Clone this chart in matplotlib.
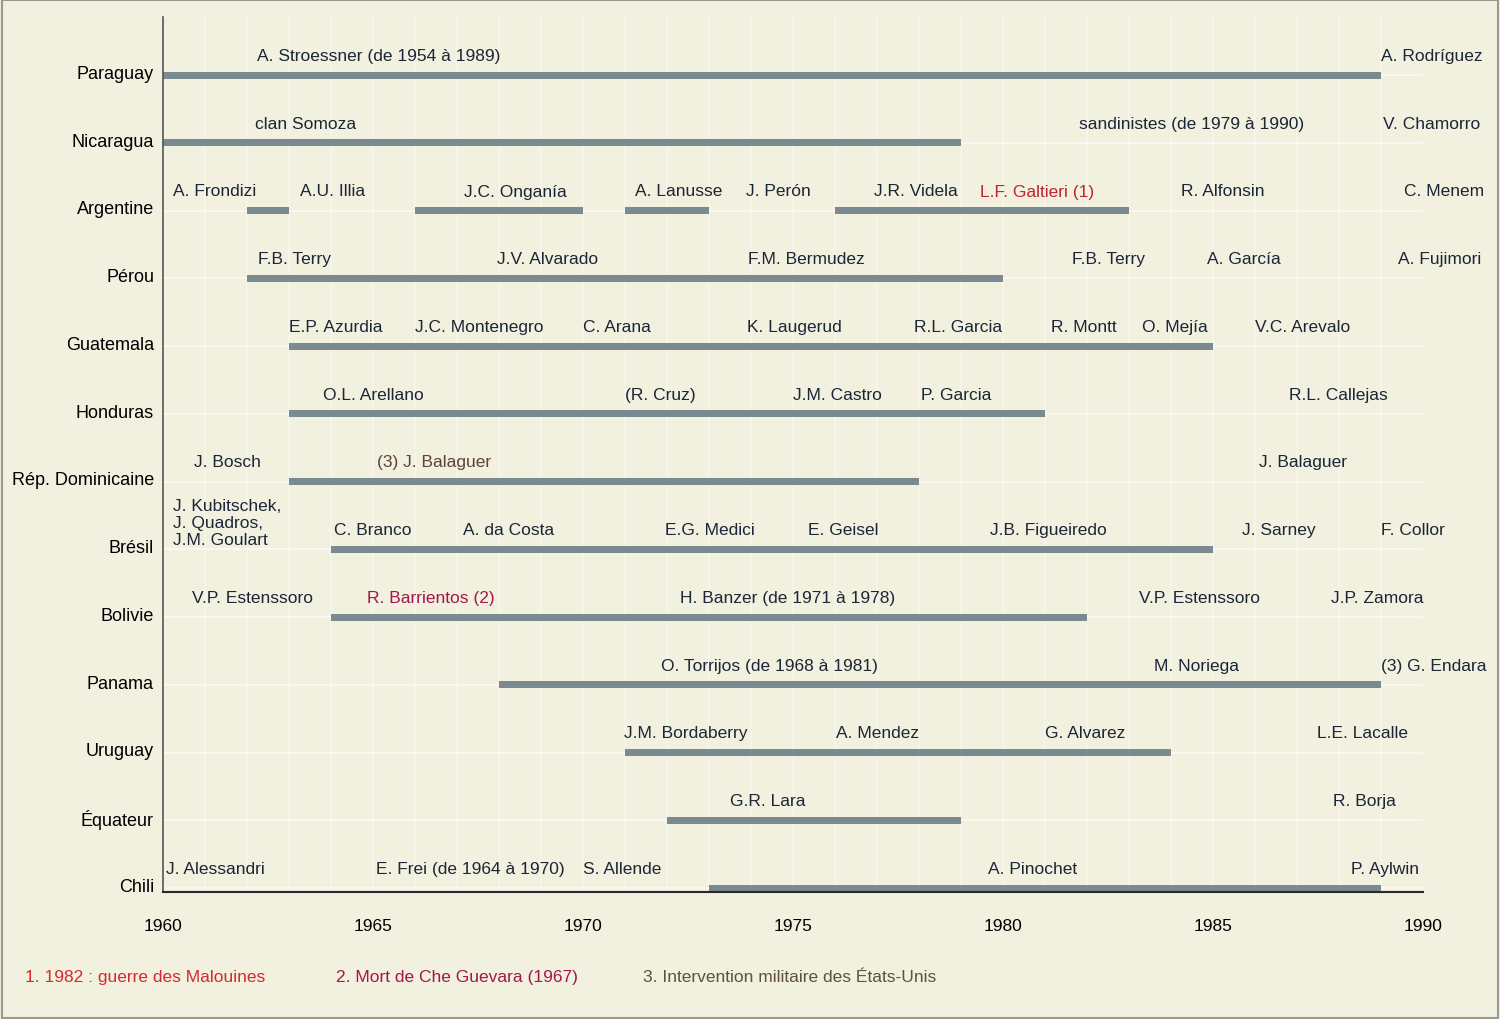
import matplotlib
matplotlib.use('Agg')
import matplotlib.pyplot as plt
import matplotlib.transforms as mtransforms
from matplotlib.patches import Rectangle

plt.rcParams['font.family'] = ['Liberation Sans', 'DejaVu Sans']

countries = ['Paraguay', 'Nicaragua', 'Argentine', 'Pérou', 'Guatemala', 'Honduras',
             'Rép. Dominicaine', 'Brésil', 'Bolivie', 'Panama', 'Uruguay', 'Équateur', 'Chili']

# périodes de régime militaire (début, fin) pour chaque pays
periods = [
    [(1960, 1989)],
    [(1960, 1979)],
    [(1962, 1963), (1966, 1970), (1971, 1973), (1976, 1983)],
    [(1962, 1980)],
    [(1963, 1985)],
    [(1963, 1981)],
    [(1963, 1978)],
    [(1964, 1985)],
    [(1964, 1982)],
    [(1968, 1989)],
    [(1971, 1984)],
    [(1972, 1979)],
    [(1973, 1989)],
]

# dirigeants : (année où débute le texte, nom)
leaders = [
    [(1962.24, 'A. Stroessner (de 1954 à 1989)'), (1989.0, 'A. Rodríguez')],
    [(1962.2, 'clan Somoza'), (1981.8, 'sandinistes (de 1979 à 1990)'), (1989.05, 'V. Chamorro')],
    [(1960.24, 'A. Frondizi'), (1963.26, 'A.U. Illia'), (1967.17, 'J.C. Onganía'),
     (1971.24, 'A. Lanusse'), (1973.88, 'J. Perón'), (1976.93, 'J.R. Videla'),
     (1979.45, 'L.F. Galtieri (1)'), (1984.24, 'R. Alfonsin'), (1989.55, 'C. Menem')],
    [(1962.26, 'F.B. Terry'), (1967.95, 'J.V. Alvarado'), (1973.93, 'F.M. Bermudez'),
     (1981.64, 'F.B. Terry'), (1984.86, 'A. García'), (1989.4, 'A. Fujimori')],
    [(1963.0, 'E.P. Azurdia'), (1966.0, 'J.C. Montenegro'), (1970.0, 'C. Arana'),
     (1973.9, 'K. Laugerud'), (1977.88, 'R.L. Garcia'), (1981.14, 'R. Montt'),
     (1983.3, 'O. Mejía'), (1986.0, 'V.C. Arevalo')],
    [(1963.8, 'O.L. Arellano'), (1971.0, '(R. Cruz)'), (1975.0, 'J.M. Castro'),
     (1978.05, 'P. Garcia'), (1986.8, 'R.L. Callejas')],
    [(1960.74, 'J. Bosch'), (1965.1, '(3) J. Balaguer'), (1986.1, 'J. Balaguer')],
    [(1960.24, 'J. Kubitschek,\nJ. Quadros,\nJ.M. Goulart'), (1964.07, 'C. Branco'),
     (1967.14, 'A. da Costa'), (1971.95, 'E.G. Medici'), (1975.36, 'E. Geisel'),
     (1979.7, 'J.B. Figueiredo'), (1985.7, 'J. Sarney'), (1989.0, 'F. Collor')],
    [(1960.7, 'V.P. Estenssoro'), (1964.86, 'R. Barrientos (2)'),
     (1972.3, 'H. Banzer (de 1971 à 1978)'), (1983.24, 'V.P. Estenssoro'), (1987.8, 'J.P. Zamora')],
    [(1971.86, 'O. Torrijos (de 1968 à 1981)'), (1983.6, 'M. Noriega'), (1989.0, '(3) G. Endara')],
    [(1970.98, 'J.M. Bordaberry'), (1976.02, 'A. Mendez'), (1981.0, 'G. Alvarez'),
     (1987.48, 'L.E. Lacalle')],
    [(1973.5, 'G.R. Lara'), (1987.86, 'R. Borja')],
    [(1960.07, 'J. Alessandri'), (1965.07, 'E. Frei (de 1964 à 1970)'), (1970.0, 'S. Allende'),
     (1979.64, 'A. Pinochet'), (1988.29, 'P. Aylwin')],
]

highlight = {'L.F. Galtieri (1)': '#c0242e', 'R. Barrientos (2)': '#a3184c',
             '(3) J. Balaguer': '#5b4536'}

notes = ['1. 1982 : guerre des Malouines', '2. Mort de Che Guevara (1967)',
         '3. Intervention militaire des États-Unis']
note_colors = ['#d42a2f', '#a3184c', '#5e5142']

years = list(range(1960, 1991, 5))

bg = '#f2f0df'
txt = '#1b2636'
bar_col = '#7b8a90'
fs = 12.5

fig = plt.figure(figsize=(15, 10.2), dpi=100)
fig.patch.set_facecolor(bg)
ax = fig.add_axes([163 / 1500, 1 - 893 / 1020, 1260 / 1500, 875 / 1020])
ax.set_facecolor(bg)

row_px = 67.75
ax.set_xlim(1960, 1990)
ax.set_ylim(12 + 4 / row_px, -58 / row_px)

# grille discrète
for yr in range(1961, 1990):
    ax.axvline(yr, color='white', lw=1.3, alpha=0.35, zorder=0)
ax.hlines(range(len(countries)), 1960, 1990, color='white', lw=1.3, alpha=0.6, zorder=0)

def shift(dx_px, dy_px, base):
    return base + mtransforms.ScaledTranslation(dx_px / 100, dy_px / 100, fig.dpi_scale_trans)

blend = mtransforms.blended_transform_factory(ax.transAxes, ax.transData)

for i, name in enumerate(countries):
    for s, e in periods[i]:
        ax.barh(i, e - s, left=s, height=7 / row_px, color=bar_col, zorder=2)
    ax.text(0, i, name, transform=shift(-9, 1.5, blend), ha='right', va='center',
            fontsize=13, color='black')
    for x, label in leaders[i]:
        dy = 27 if '\n' in label else 19.5
        ax.text(x, i, label, transform=shift(0, dy, ax.transData), ha='left', va='center',
                fontsize=fs, color=highlight.get(label, txt), linespacing=1.18, zorder=3)

for side in ['top', 'right']:
    ax.spines[side].set_visible(False)
ax.spines['left'].set_color('#555555')
ax.spines['left'].set_linewidth(1.2)
ax.spines['bottom'].set_color('#2a2a2a')
ax.spines['bottom'].set_linewidth(1.5)
ax.set_yticks([])
ax.set_xticks(years)
ax.set_xticklabels([str(y) for y in years], fontsize=fs, color='black')
ax.tick_params(axis='x', length=0, pad=19)

for x, note, c in zip([25, 336, 643], notes, note_colors):
    fig.text(x / 1500, 1 - 978 / 1020, note, ha='left', va='center', fontsize=fs, color=c)

fig.add_artist(Rectangle((0.0015, 0.001), 0.997, 0.998, transform=fig.transFigure,
                         fill=False, edgecolor='#9a9a8e', lw=1.5))

fig.savefig('out.png', dpi=100, facecolor=bg)
